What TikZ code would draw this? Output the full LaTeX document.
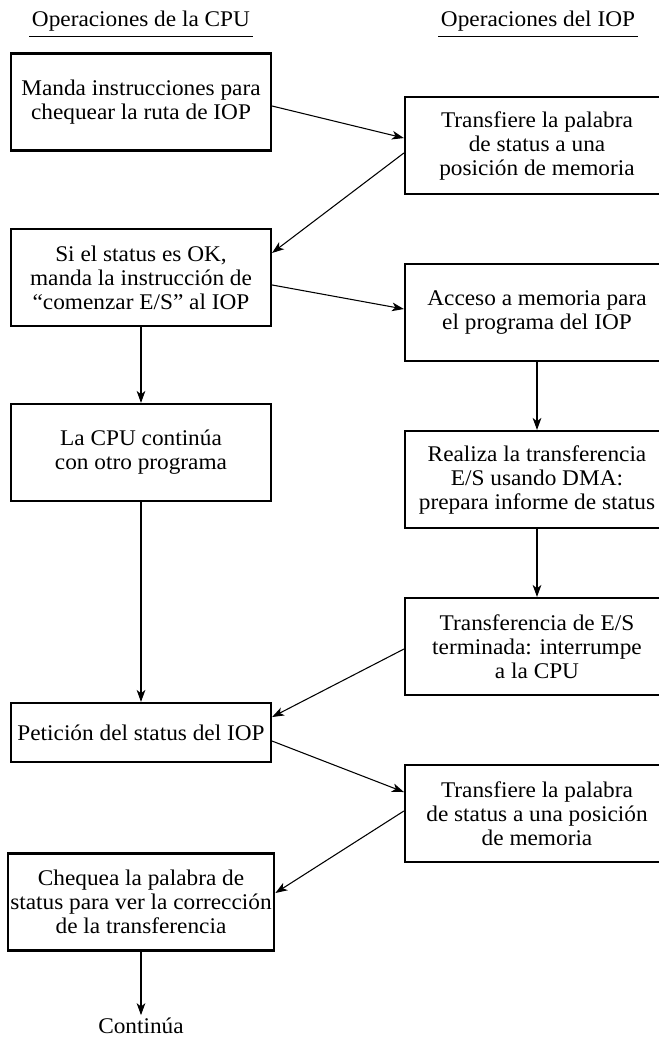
\documentclass[tikz,border=0pt]{standalone}
\usepackage{fontspec}
\setmainfont[FakeStretch=1.04]{Liberation Serif}
\usetikzlibrary{arrows.meta}

\begin{document}
\begin{tikzpicture}[x=0.75pt, y=-0.75pt,
    font=\fontsize{16.8}{18}\selectfont,
    paso/.style ={rectangle, draw, line width=1.6pt, align=center,
                  minimum width=195pt, minimum height=72.75pt, inner sep=2pt},
    pasoiop/.style ={paso, minimum width=198pt},
    titulo/.style ={inner sep=0pt, anchor=base},
    flecha/.style ={-{Stealth[length=9pt, width=6.5pt, inset=2.5pt]}, line width=0.8pt}]
   \useasboundingbox (0,0) rectangle (658,1040);

   % titulos de las dos columnas
   \node[titulo] (T1) at (141,26) {Operaciones de la CPU};
   \node[titulo] (T2) at (538,26) {Operaciones del IOP};
   \draw[line width=0.7pt] ([shift={(-2pt,-8pt)}]T1.base west) to ([shift={(2pt,-8pt)}]T1.base east);
   \draw[line width=0.7pt] ([shift={(-2pt,-8pt)}]T2.base west) to ([shift={(2pt,-8pt)}]T2.base east);

   % columna de la CPU
   \node[paso] (A) at (141,102)   {Manda instrucciones para\\chequear la ruta de IOP};
   \node[paso] (B) at (141,277.5) {Si el status es OK,\\manda la instrucción de\\“comenzar E/S” al IOP};
   \node[paso] (C) at (141,452.5) {La CPU continúa\\con otro programa};
   \node[paso, minimum height=44.25pt] (D) at (141,732.5) {Petición del status del IOP};
   \node[paso] (E) at (141,902)   {Chequea la palabra de\\status para ver la corrección\\de la transferencia};
   \node[inner sep=2pt] (K) at (141,1026) {Continúa};

   % columna del IOP
   \node[pasoiop] (F) at (537,145.5) {Transfiere la palabra\\de status a una\\posición de memoria};
   \node[pasoiop] (G) at (537,312.5) {Acceso a memoria para\\el programa del IOP};
   \node[pasoiop] (H) at (537,479.5) {Realiza la transferencia\\E/S usando DMA:\\prepara informe de status};
   \node[pasoiop] (I) at (537,646.5) {Transferencia de E/S\\terminada: interrumpe\\a la CPU};
   \node[pasoiop] (J) at (537,813.5) {Transfiere la palabra\\de status a una posición\\de memoria};

   \draw[flecha] ([yshift=-3pt]A.east) to ([yshift=5.6pt]F.west);
   \draw[flecha] ([yshift=-5.6pt]F.west) to ([yshift=18.4pt]B.east);
   \draw[flecha] ([yshift=-5.6pt]B.east) to ([yshift=2.6pt]G.west);
   \draw[flecha] (B) to (C);
   \draw[flecha] (G) to (H);
   \draw[flecha] (H) to (I);
   \draw[flecha] ([yshift=-1.9pt]I.west) to ([yshift=11.6pt]D.east);
   \draw[flecha] (C) to (D);
   \draw[flecha] ([yshift=-6.4pt]D.east) to ([yshift=16.1pt]J.west);
   \draw[flecha] ([yshift=1.9pt]J.west) to ([yshift=6.75pt]E.east);
   \draw[flecha] (E) to (K);

 \end{tikzpicture}
\end{document}
